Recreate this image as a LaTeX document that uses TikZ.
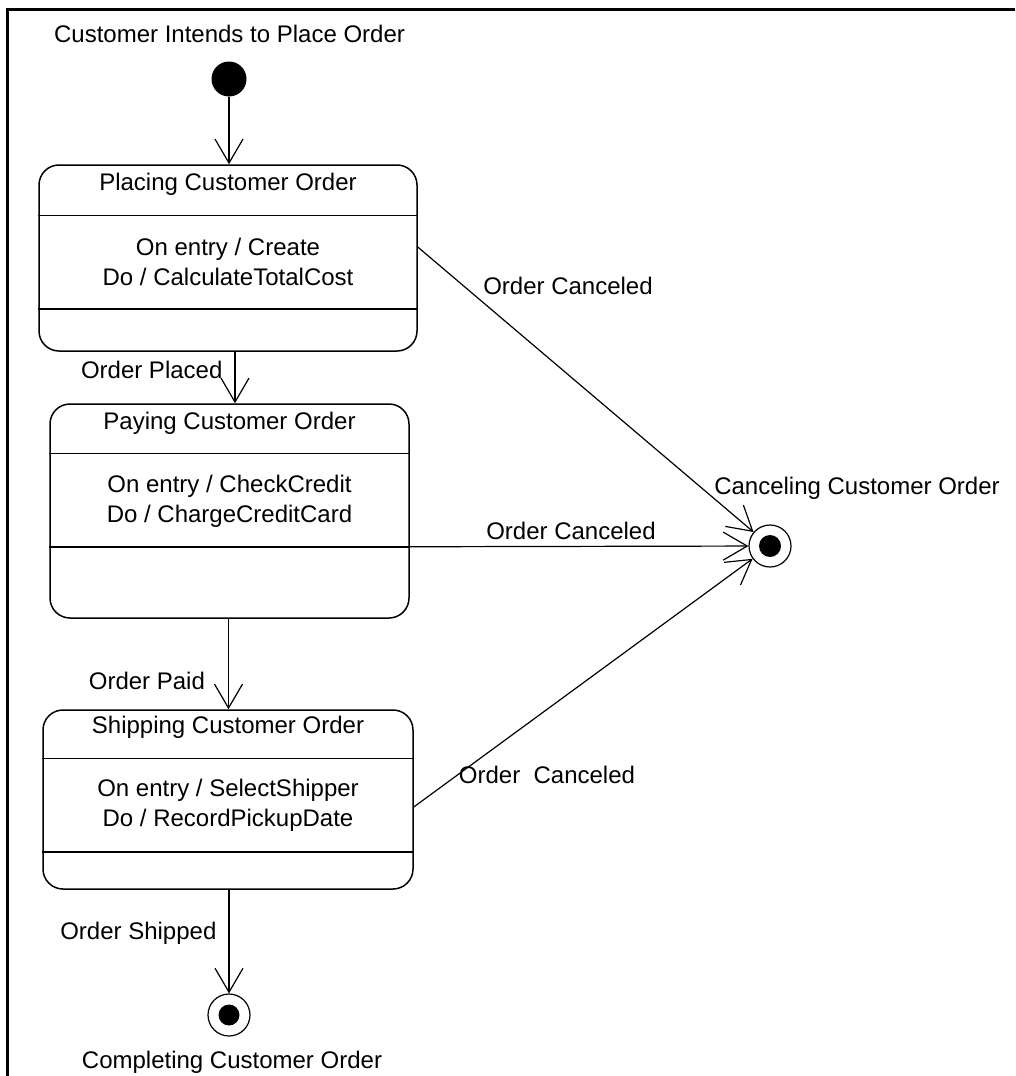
\documentclass[tikz,border=0pt]{standalone}
\usepackage{fontspec}
\setmainfont{Liberation Sans}
\usetikzlibrary{arrows.meta}

\tikzset{
  state/.style={draw, line width=1.5pt, rounded corners=20pt, inner sep=0pt},
  lbl/.style={font=\fontsize{24}{30}\selectfont, inner sep=0pt, text height=17pt, text depth=5pt},
  body/.style={lbl, align=center, text height=, text depth=},
  trans/.style={line width=1.2pt, -{Straight Barb[length=24pt,width=28pt]}},
  divider/.style={line width=1.5pt},
}

\begin{document}
\begin{tikzpicture}[x=1pt, y=-1pt]
		\useasboundingbox (0,0) rectangle (1015,1076);
		% Frame
		\draw[line width=3pt] (7,1076) -- (7,9) -- (1015,9);
		
		% Start
		\node[lbl] (starttxt) at (229.5,36) {Customer Intends to Place Order};
		\node[circle, fill, minimum size=35pt, inner sep=0pt] (init) at (229,79) {};
		
		% States
		\node[state, minimum width=378pt, minimum height=186pt] (place) at (228,258) {};
		\node[lbl] (placetitle) at (228,184) {Placing Customer Order};
		\node[body] (placebody) at (228,262) {On entry / Create\\Do / CalculateTotalCost};
		\draw[divider] ([yshift=-51pt]place.north west) -- ([yshift=-51pt]place.north east);
		\draw[divider] ([yshift=43pt]place.south west) -- ([yshift=43pt]place.south east);
		
		\node[state, minimum width=359pt, minimum height=214pt] (pay) at (229.5,511) {};
		\node[lbl] (paytitle) at (229.5,423) {Paying Customer Order};
		\node[body] (paybody) at (229.5,501) {On entry / CheckCredit\\Do / ChargeCreditCard};
		\draw[divider] ([yshift=-50pt]pay.north west) -- ([yshift=-50pt]pay.north east);
		\draw[divider] ([yshift=72pt]pay.south west) -- ([yshift=72pt]pay.south east);
		
		\node[state, minimum width=370pt, minimum height=179pt] (ship) at (228,799.5) {};
		\node[lbl] (shiptitle) at (228,727) {Shipping Customer Order};
		\node[body] (shipbody) at (228,805) {On entry / SelectShipper\\Do / RecordPickupDate};
		\draw[divider] ([yshift=-49pt]ship.north west) -- ([yshift=-49pt]ship.north east);
		\draw[divider] ([yshift=38pt]ship.south west) -- ([yshift=38pt]ship.south east);
		
		% Final states
		\node[circle, draw, line width=1.2pt, minimum size=42pt, inner sep=0pt] (cancel) at (770,546) {};
		\node[circle, fill, minimum size=22pt, inner sep=0pt] (canceldot) at (cancel) {};
		\node[lbl] (canceltxt) at (857,488) {Canceling Customer Order};
		
		\node[circle, draw, line width=1.2pt, minimum size=42pt, inner sep=0pt] (done) at (229,1015) {};
		\node[circle, fill, minimum size=21pt, inner sep=0pt] (donedot) at (done) {};
		\node[lbl] (donetxt) at (232,1062) {Completing Customer Order};
		
		% Transitions
		\draw[trans] (init) -- (init |- place.north);
		\draw[trans] ([xshift=7pt]place.south) -- ([xshift=7pt]place.south |- pay.north)
			node[lbl, pos=0.41, left=12pt] (placed) {Order Placed};
		\draw[trans] ([xshift=-1pt]pay.south) -- ([xshift=-1pt]pay.south |- ship.north)
			node[lbl, pos=0.71, left=23pt] (paid) {Order Paid};
		\draw[trans] ([xshift=1pt]ship.south) -- (done)
			node[lbl, pos=0.42, left=12pt] (shipped) {Order Shipped};
		
		\coordinate (placeout) at ([yshift=11pt]place.east);
		\coordinate (payout) at ([yshift=72pt]pay.south east);
		\coordinate (shipout) at ([yshift=-7.5pt]ship.east);
		\draw[trans] (placeout) -- (cancel);
		\draw[trans] (payout) -- (cancel);
		\draw[trans] (shipout) -- (cancel);
		\node[lbl] (cancel1) at (568,288) {Order Canceled};
		\node[lbl] (cancel2) at (571,533) {Order Canceled};
		\node[lbl] (cancel3) at (547,777) {Order~ Canceled};
	\end{tikzpicture}
\end{document}
